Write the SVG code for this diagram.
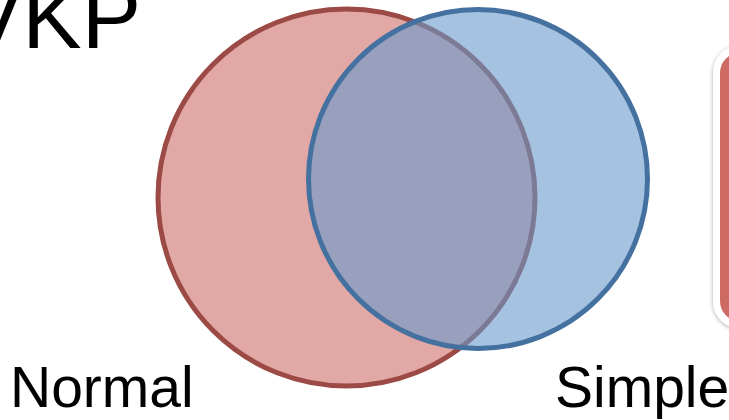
<svg xmlns="http://www.w3.org/2000/svg" width="729" height="420" viewBox="0 0 729 420">
  <defs>
    <style>
      .lbl { font-family: "Liberation Sans", Arial, sans-serif; fill: #000; }
      .big { font-size: 89px; }
      .set { font-size: 57px; }
    </style>
    <filter id="shadow" x="-20%" y="-20%" width="140%" height="140%">
      <feDropShadow dx="0" dy="1" stdDeviation="2" flood-color="#000" flood-opacity="0.35"/>
    </filter>
  </defs>
  <rect width="729" height="420" fill="#ffffff"/>
  <text class="lbl big" x="-37" y="48">VKP</text>
  <g id="normal">
    <circle cx="346.5" cy="197.5" r="188.5" fill="#e2a8a6" stroke="#9c4a45" stroke-width="5"/>
  </g>
  <g id="simple">
    <circle cx="478" cy="179" r="169.5" fill="rgb(105,155,205)" fill-opacity="0.6" stroke="#44719f" stroke-width="5"/>
  </g>
  <g id="box">
    <rect x="716.5" y="49" width="120" height="276" rx="24" ry="24" fill="#cd6b64" stroke="#ffffff" stroke-width="7" filter="url(#shadow)"/>
  </g>
  <g id="connectors"></g>
  <text class="lbl set" x="10" y="407">Normal</text>
  <text class="lbl set" x="555" y="407">Simple</text>
</svg>
